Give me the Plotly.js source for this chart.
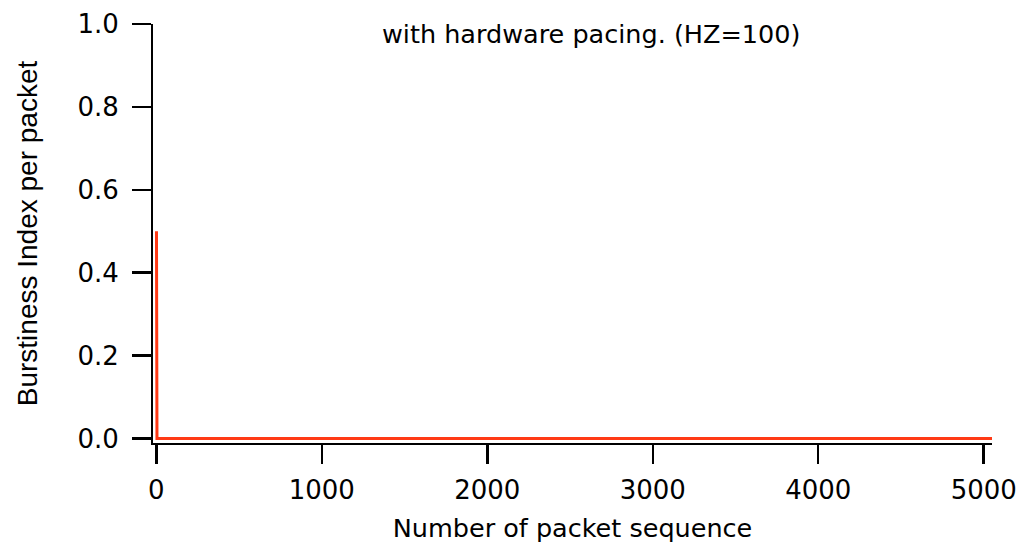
<!DOCTYPE html>
<html>
<head>
<meta charset="utf-8">
<script src="https://cdn.plot.ly/plotly-3.0.1.min.js"></script>
<style>
  html, body { margin: 0; padding: 0; background: #fff; }
  #chart { width: 1022px; height: 546px; }
</style>
</head>
<body>
<div id="chart"></div>
<script>
// Burstiness index per packet, sampled at the packets where it changes
const packetSeq = [1, 2, 3, 4, 5050];
const burstiness = [0.5, 0.34, 0, 0, 0];

const xTicks = [0, 1000, 2000, 3000, 4000, 5000];
const yTicks = [0.0, 0.2, 0.4, 0.6, 0.8, 1.0];
const yTickText = ['0.0', '0.2', '0.4', '0.6', '0.8', '1.0'];

const FONT = 'DejaVu Sans, sans-serif';
const FONT_Y = 'Liberation Sans, Arial, sans-serif';

const trace = {
  x: packetSeq,
  y: burstiness,
  type: 'scatter',
  mode: 'lines',
  line: { color: 'rgb(255,58,22)', width: 3 },
  hoverinfo: 'skip'
};

const axisCommon = {
  showgrid: false,
  zeroline: false,
  showline: true,
  linecolor: '#000',
  linewidth: 2,
  ticks: 'outside',
  ticklen: 19,
  tickwidth: 2.5,
  tickcolor: '#000',
  tickfont: { family: FONT, size: 26, color: '#000' }
};

const layout = {
  width: 1022,
  height: 546,
  margin: { l: 153, r: 30, t: 24, b: 103 },
  paper_bgcolor: '#fff',
  plot_bgcolor: '#fff',
  showlegend: false,
  xaxis: Object.assign({}, axisCommon, {
    range: [-20, 5050],
    tickmode: 'array',
    tickvals: xTicks,
    ticktext: xTicks.map(String),
    ticklabelstandoff: 4,
    title: { text: 'Number of packet sequence', font: { family: FONT, size: 25.5, color: '#000' }, standoff: 15 }
  }),
  yaxis: Object.assign({}, axisCommon, {
    range: [-0.011, 1.0],
    tickmode: 'array',
    tickvals: yTicks,
    ticktext: yTickText,
    ticklabelstandoff: 8,
    title: { text: 'Burstiness Index per packet', font: { family: FONT_Y, size: 28, color: '#000' }, standoff: 32 }
  }),
  annotations: [{
    text: 'with hardware pacing. (HZ=100)',
    xref: 'paper', yref: 'paper',
    x: 0.522, y: 0.975,
    xanchor: 'center', yanchor: 'middle',
    showarrow: false,
    font: { family: FONT, size: 25.5, color: '#000' }
  }]
};

Plotly.newPlot('chart', [trace], layout, { displayModeBar: false, staticPlot: true });
</script>
</body>
</html>
